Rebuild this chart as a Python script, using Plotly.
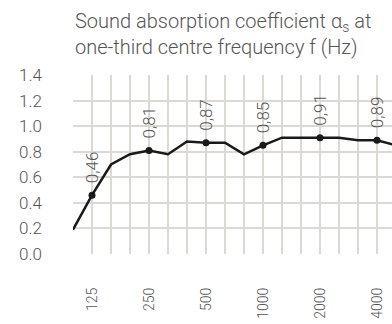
import plotly.graph_objects as go

# One-third octave centre frequencies (Hz)
bands = ["100", "125", "160", "200", "250", "315", "400", "500", "630",
         "800", "1000", "1250", "1600", "2000", "2500", "3150", "4000", "5000"]
# Sound absorption coefficient per band
alpha = [0.19, 0.46, 0.70, 0.78, 0.81, 0.78, 0.88, 0.87, 0.87,
         0.78, 0.85, 0.91, 0.91, 0.91, 0.91, 0.89, 0.89, 0.85]
# Octave bands that carry a marker and value label
octaves = ["125", "250", "500", "1000", "2000", "4000"]
y_ticks = [0.0, 0.2, 0.4, 0.6, 0.8, 1.0, 1.2, 1.4]

FONT = "Roboto"
GREY = "#555555"
GRID = "#dcd8d4"

oct_idx = [bands.index(b) for b in octaves]
oct_vals = [alpha[i] for i in oct_idx]
oct_text = [f"{v:.2f}".replace(".", ",") for v in oct_vals]

fig = go.Figure()
fig.add_trace(go.Scatter(
    x=bands, y=alpha, mode="lines",
    line=dict(color="#1a1a1a", width=2.5),
    hoverinfo="skip", cliponaxis=False,
))
fig.add_trace(go.Scatter(
    x=octaves, y=oct_vals, mode="markers",
    marker=dict(color="#1a1a1a", size=7),
    cliponaxis=False,
))

# Rotated value labels above the octave markers
for i, v, t in zip(oct_idx, oct_vals, oct_text):
    fig.add_annotation(
        x=i, y=v, text=t, showarrow=False, textangle=-90,
        xanchor="center", yanchor="bottom", yshift=10,
        font=dict(family=FONT, size=17, color=GREY, weight=300),
    )

fig.add_annotation(
    xref="paper", yref="paper", x=0, y=1, xanchor="left", yanchor="bottom",
    yshift=14, align="left", showarrow=False,
    text="Sound absorption coefficient α<sub>s</sub> at<br>one-third centre frequency f (Hz)",
    font=dict(family=FONT, size=20, color=GREY, weight=300),
)

fig.update_xaxes(
    type="category", categoryorder="array", categoryarray=bands,
    range=[0, 16.79], tickmode="array", tickvals=bands,
    ticktext=[b if b in octaves else "" for b in bands],
    tickangle=-90, showgrid=True, gridcolor=GRID, gridwidth=1.5,
    zeroline=False, showline=False, ticks="", ticklabelstandoff=30,
    tickfont=dict(family=FONT, size=14, color=GREY, weight=300),
)
fig.update_yaxes(
    range=[0, 1.4], tickmode="array", tickvals=y_ticks,
    ticktext=[f"{v:.1f}" for v in y_ticks],
    showgrid=True, gridcolor=GRID, gridwidth=1.5,
    zeroline=False, showline=False, ticks="", ticklabelstandoff=30,
    tickfont=dict(family=FONT, size=17, color=GREY, weight=300),
)
fig.update_layout(
    width=392, height=324, showlegend=False,
    margin=dict(l=73, r=0, t=75, b=70),
    plot_bgcolor="white", paper_bgcolor="white",
)
fig.write_html("out.html")
